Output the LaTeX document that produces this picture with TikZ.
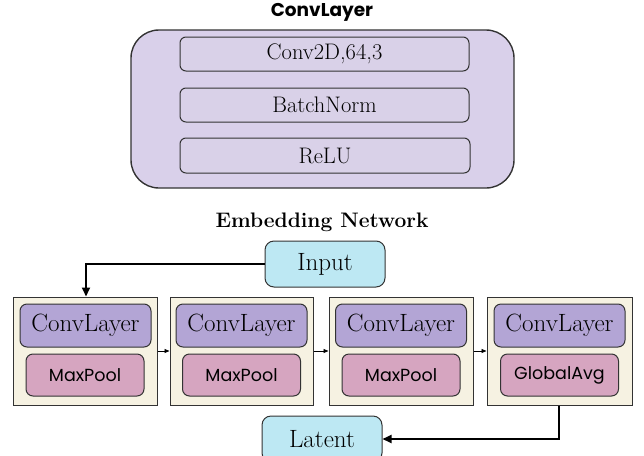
\documentclass[tikz,border=0pt]{standalone}
\usepackage{fontspec}
\newfontfamily\popp{Poppins}
\usetikzlibrary{arrows.meta}
\definecolor{lav}{HTML}{D9D0EA}
\definecolor{lavin}{HTML}{D9D1E8}
\definecolor{purp}{HTML}{B3A5D5}
\definecolor{pinkb}{HTML}{D6A5C0}
\definecolor{cream}{HTML}{F6F2E2}
\definecolor{cyanb}{HTML}{BDE8F3}
\definecolor{edge}{HTML}{333333}
\tikzset{
  bigbox/.style={draw=edge, line width=1.4pt, fill=lav, rounded corners=28pt, minimum width=383pt, minimum height=158pt, inner sep=0pt},
  layerbox/.style={draw=edge, line width=1pt, fill=lavin, rounded corners=6pt, minimum width=289pt, minimum height=34pt, inner sep=0pt, font=\fontsize{22.5}{25}\selectfont},
  iobox/.style={draw=edge, line width=1pt, fill=cyanb, rounded corners=9pt, minimum width=120pt, minimum height=46pt, inner sep=0pt, font=\fontsize{25}{28}\selectfont},
  stage/.style={draw=edge, line width=1pt, fill=cream, minimum height=108pt, inner sep=0pt},
  convbox/.style={draw=edge, line width=1pt, fill=purp, rounded corners=7pt, minimum width=131pt, minimum height=43pt, inner sep=0pt, font=\fontsize{25}{28}\selectfont},
  poolbox/.style={draw=edge, line width=1pt, fill=pinkb, rounded corners=7pt, minimum width=118pt, minimum height=42pt, inner sep=0pt, font=\popp\fontsize{17.5}{20}\selectfont},
  thick arrow/.style={draw=black, line width=1.8pt, -{Triangle[length=9pt,width=8pt]}},
  thin arrow/.style={draw=black, line width=0.9pt, -{Triangle[length=5pt,width=4pt]}},
}
\begin{document}
\begin{tikzpicture}[x=1pt,y=-1pt]
\useasboundingbox (0,0) rectangle (644,455);
\node[font=\popp\bfseries\fontsize{18.5}{20}\selectfont] (t1) at (322,12) {ConvLayer};
\node[bigbox] (big) at (322.5,109) {};
\node[layerbox] (conv) at (324.5,54) {Conv2D,64,3};
\node[layerbox] (bn) at (324.5,105) {BatchNorm};
\node[layerbox, minimum width=290pt, minimum height=35pt] (relu) at (325,155.5) {ReLU};
\node[font=\bfseries\fontsize{21}{24}\selectfont] (t2) at (322,222) {Embedding Network};
\node[iobox] (in) at (325,264) {Input};
\node[stage, minimum width=144pt] (s1) at (85,351) {};
\node[stage, minimum width=143pt] (s2) at (241.5,351) {};
\node[stage, minimum width=144pt] (s3) at (401,351) {};
\node[stage, minimum width=145pt] (s4) at (559.5,351) {};
\foreach \i/\x in {1/85.5,2/241.5,3/401,4/559.5}{
  \node[convbox] (c\i) at (\x,325.5) {ConvLayer};
}
\node[poolbox] (p1) at (85,375) {MaxPool};
\node[poolbox] (p2) at (241.5,375) {MaxPool};
\node[poolbox] (p3) at (401,375) {MaxPool};
\node[poolbox] (p4) at (559.5,375) {GlobalAvg};
\node[iobox] (lat) at (322,439) {Latent};
\coordinate (k1) at (86,264);
\coordinate (k2) at (559,439);
\draw[thick arrow] (in.west) -- (k1) -- (k1 |- s1.north);
\draw[thick arrow] (k2 |- s4.south) -- (k2) -- (lat.east);
\draw[thin arrow] (s1.east) -- (s2.west);
\draw[thin arrow] (s2.east) -- (s3.west);
\draw[thin arrow] (s3.east) -- (s4.west);
\end{tikzpicture}
\end{document}
